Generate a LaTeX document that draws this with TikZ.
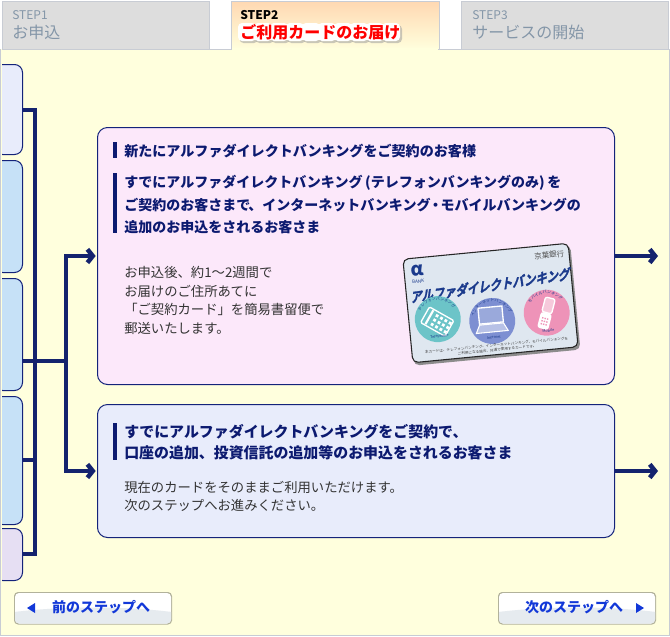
\documentclass[tikz,border=0pt]{standalone}
\usepackage{fontspec}
\setmainfont{Noto Sans CJK JP}
\newfontface\titleface[FakeBold=2]{Noto Sans CJK JP Bold}
\usetikzlibrary{arrows.meta,decorations.text}
\definecolor{navy}{HTML}{14236E}
\definecolor{edge}{HTML}{14237A}
\definecolor{headc}{HTML}{0C1A70}
\definecolor{bodyc}{HTML}{333333}
\definecolor{pageb}{HTML}{FFFFDD}
\definecolor{pinkf}{HTML}{FCE8FA}
\definecolor{bluef}{HTML}{E8ECFB}
\definecolor{skyf}{HTML}{C6E1F7}
\definecolor{lilacf}{HTML}{E6DFF3}
\definecolor{frame}{HTML}{C8CCD4}
\definecolor{tabg}{HTML}{DDDDDD}
\definecolor{tabt}{HTML}{8496A8}
\definecolor{btnc}{HTML}{1238D8}
\definecolor{cardf}{HTML}{DFE7F0}
\definecolor{cardb}{HTML}{1B3A8C}
\definecolor{tealc}{HTML}{6CC4C8}
\definecolor{lapc}{HTML}{7D8FD2}
\definecolor{pnkc}{HTML}{EE93B8}
\definecolor{swoosh}{HTML}{E6EBEF}
\tikzset{
  x=0.75pt,y=-0.75pt,
  sidebox/.style={draw=edge,line width=0.75pt,rounded corners=6pt,minimum width=21pt,anchor=north west,inner sep=0pt},
  mainbox/.style={draw=edge,line width=0.75pt,rounded corners=7.5pt,anchor=north west,inner sep=0pt,minimum width=387.75pt},
  conn/.style={draw=navy,line width=3.4pt},
  arr/.style={conn,-{Straight Barb[length=4pt,width=10pt]}},
  tabbox/.style={draw=frame,line width=1pt,anchor=north west,minimum width=155pt,minimum height=36pt,inner sep=0pt},
  steplab/.style={anchor=west,inner sep=0pt,font=\fontsize{9pt}{9pt}\selectfont},
  tabtitle/.style={anchor=west,inner sep=0pt,font=\fontsize{12pt}{12pt}\selectfont},
  heading/.style={anchor=north west,inner sep=0pt,align=left,text=headc},
  para/.style={anchor=north west,inner sep=0pt,align=left,text=bodyc},
  bar/.style={fill=headc,draw=none},
  btn/.style={draw=none,fill=none,inner sep=0pt,text=btnc,anchor=center,font=\bfseries\fontsize{10.5pt}{10.5pt}\selectfont},
  cardtxt/.style={inner sep=0pt,transform shape,text=cardb},
  arct/.style={decorate,decoration={text along path,text align=center,text color=cardb}},
}
\begin{document}
\begin{tikzpicture}
\useasboundingbox (0,0) rectangle (670,636);
% page
\fill[white] (0,0) rectangle (670,636);
\fill[pageb] (1,49) rectangle (669,635);
% tabs
\node[tabbox,fill=tabg] (tab1) at (2,1) {};
\node[tabbox,minimum width=156pt,top color=orange!30!white,bottom color=pageb,draw=frame] (tab2) at (231,1) {};
\node[tabbox,fill=tabg] (tab3) at (461,1) {};
\fill[pageb] (232,48) rectangle (438,50);
\draw[frame,line width=0.75pt] (0,49.5) -- (231,49.5) (439,49.5) -- (670,49.5);
\node[steplab,text=tabt] (t1a) at (12,15) {STEP1};
\node[tabtitle,text=tabt] (t1b) at (12,32) {お申込};
\node[steplab,font=\bfseries\fontsize{9pt}{9pt}\selectfont] (t2a) at (240,15) {STEP2};
% halo and soft shadow behind the red title
\foreach \i in {0,...,9}
  \fill[black!38,opacity=.55,rounded corners=3pt] (239.5+16*\i,25) rectangle +(18.5,18);
\foreach \i in {0,...,9}
  \fill[white,rounded corners=3pt] (238+16*\i,23) rectangle +(18,18);
\node[tabtitle,font=\bfseries\fontsize{12pt}{12pt}\selectfont,text=red] (t2b) at (240,32) {ご利用カードのお届け};
\node[steplab,text=tabt] (t3a) at (472,15) {STEP3};
\node[tabtitle,text=tabt] (t3b) at (472,32) {サービスの開始};
% left boxes
\node[sidebox,fill=bluef,minimum height=67.5pt,minimum width=21pt] (s1) at (-6,64) {};
\node[sidebox,fill=skyf,minimum height=84pt] (s2) at (-6,160) {};
\node[sidebox,fill=skyf,minimum height=84pt] (s3) at (-6,278) {};
\node[sidebox,fill=skyf,minimum height=96pt] (s4) at (-6,396) {};
\node[sidebox,fill=lilacf,minimum height=39pt] (s5) at (-6,528) {};
% frame over the left ends of the boxes
\fill[pageb] (0,49) rectangle (2,636);
\fill[white] (0,49) rectangle (1,636);
\draw[frame,line width=1pt] (0.7,49) -- (0.7,635.3) -- (669.3,635.3) -- (669.3,49);
% main boxes
\node[mainbox,fill=pinkf,minimum height=192.75pt] (pink) at (97,127) {};
\node[mainbox,fill=bluef,minimum height=99.75pt] (blue) at (97,404) {};
% connectors
\coordinate (bt) at (35,110);
\coordinate (bb) at (35,554);
\coordinate (b4) at (35,460);
\coordinate (jn) at (66,361);
\coordinate (outa) at (658,256);
\coordinate (outb) at (658,471);
\draw[conn,line join=miter] (s1.east |- bt) -- (bt) -- (bb) -- (s5.east |- bb);
\draw[conn] (s4.east |- b4) -- (b4);
\draw[conn] (s3.east |- jn) -- (jn);
\draw[arr,shorten >=1pt] (jn) |- (pink.west);
\draw[arr,shorten >=1pt] (jn) |- (blue.west);
\draw[arr] (pink.east |- outa) -- (outa);
\draw[arr] (blue.east |- outb) -- (outb);
% pink box contents
\fill[bar] (113,142) rectangle (117,158);
\fill[bar] (113,173) rectangle (117,233);
\node[heading,font=\bfseries\fontsize{10.55pt}{10.5pt}\selectfont] (h1) at (124,144) {新たにアルファダイレクトバンキングをご契約のお客様};
\node[heading,font=\bfseries\fontsize{10.5pt}{16.9pt}\selectfont] (h2) at (124,175) {すでにアルファダイレクトバンキング\hspace{2pt}(テレフォンバンキングのみ)\hspace{2pt}を\\ご契約のお客さまで\kern-1.5pt、インターネットバンキング\kern-1.5pt・\kern-1.5pt モバイルバンキングの\\追加のお申込をされるお客さま};
\node[para,font=\fontsize{10pt}{14pt}\selectfont] (p1) at (124,266) {お申込後、約1～2週間で\\お届けのご住所あてに\\「ご契約カード」を簡易書留便で\\郵送いたします。};
% card
\begin{scope}[shift={(490.5,303)},rotate=5.5]
  \fill[black!45,rounded corners=4pt] (-82,-50) rectangle (85,55);
  \fill[cardf,draw=black!85,line width=.8pt,rounded corners=4pt] (-83,-52) rectangle (83,52);
  \node[cardtxt,text=black!70,font=\fontsize{5.6pt}{5.6pt}\selectfont] (bank) at (63,-42) {京葉銀行};
  \node[cardtxt,font=\bfseries\fontsize{14pt}{14pt}\selectfont] (alpha) at (-70,-39) {α};
  \node[cardtxt,font=\fontsize{3.4pt}{3.4pt}\selectfont] (bk) at (-70,-28.5) {BANK};
  \node[cardtxt,rotate=3,xslant=0.3,yscale=1.2,font=\titleface\fontsize{8.6pt}{8.6pt}\selectfont] (title) at (2,-17.5) {アルファダイレクトバンキング};
  % telephone
  \fill[tealc] (-54,11) circle (23);
  \begin{scope}[shift={(-54,14)},rotate=-35]
    \draw[white,line width=1pt,rounded corners=1pt] (-15,-9) rectangle (13,9);
    \draw[white,line width=1.6pt] (-10,-8) -- (-10,8);
    \foreach \i in {-4,1,6,11}\foreach \j in {-5,0,5}
      \fill[white] (\i-1.4,\j-1.4) rectangle (\i+1.4,\j+1.4);
  \end{scope}
  \path[arct,decoration={text={|\fontsize{3pt}{3pt}\selectfont|テレフォンバンキング}}] (-73,11) arc[start angle=180,end angle=360,radius=19];
  \node[cardtxt,font=\fontsize{2.8pt}{2.8pt}\selectfont] (tel) at (-54,28.5) {Telephone};
  % laptop
  \fill[lapc] (0,18) circle (23);
  \draw[white,fill=lapc!70!cardf,line width=1pt] (-13,4) rectangle (11,20);
  \draw[white,fill=white,fill opacity=.45,line width=.8pt] (-13,21) -- (11,21) -- (15,29) -- (-17,29) -- cycle;
  \path[arct,decoration={text={|\fontsize{3pt}{3pt}\selectfont|インターネットバンキング}}] (-19,18) arc[start angle=180,end angle=360,radius=19];
  \node[cardtxt,font=\fontsize{2.8pt}{2.8pt}\selectfont] (net) at (0,34.5) {Internet};
  % mobile
  \fill[pnkc] (55,15) circle (23);
  \begin{scope}[shift={(55,15)},rotate=-20]
    \draw[white,fill=pnkc!50!white,line width=1pt,rounded corners=1.5pt] (-5,-15) rectangle (5,0);
    \draw[white,fill=white,line width=1pt,rounded corners=1.5pt] (-5,1) rectangle (5,16);
    \foreach \i in {-2.5,0,2.5}\foreach \j in {6,9,12}
      \fill[pnkc] (\i-.7,\j-.7) rectangle (\i+.7,\j+.7);
  \end{scope}
  \path[arct,decoration={text={|\fontsize{3pt}{3pt}\selectfont|モバイルバンキング}}] (36,15) arc[start angle=180,end angle=360,radius=19];
  \node[cardtxt,font=\fontsize{2.8pt}{2.8pt}\selectfont] (mob) at (55,33) {Mobile};
  \node[cardtxt,text=black!75,align=center,font=\fontsize{2.7pt}{3.6pt}\selectfont] (note) at (2,45) {本カードは、テレフォンバンキング、インターネットバンキング、モバイルバンキングを\\ご利用になる場合、共通で使用するカードです。};
\end{scope}
% blue box contents
\fill[bar] (113,423) rectangle (117,460);
\node[heading,font=\bfseries\fontsize{11.2pt}{15.75pt}\selectfont] (h3) at (124,424) {すでにアルファダイレクトバンキングをご契約で、\\口座の追加、投資信託の追加等のお申込をされるお客さま};
\node[para,font=\fontsize{10pt}{13.5pt}\selectfont] (p2) at (124,481) {現在のカードをそのままご利用いただけます。\\次のステップへお進みください。};
% buttons
\foreach \xa in {14,498}{
  \begin{scope}
    \fill[black!30!pageb,rounded corners=3pt] (\xa,592) rectangle (\xa+158,624.5);
    \fill[white,rounded corners=3pt] (\xa+1,593) rectangle (\xa+157,623.5);
    \clip[rounded corners=3pt] (\xa+1,593) rectangle (\xa+157,623.5);
    \fill[swoosh] (\xa,612) .. controls (\xa+50,606) and (\xa+110,606) .. (\xa+158,612) -- (\xa+158,624) -- (\xa,624) -- cycle;
  \end{scope}
}
\node[btn] (prev) at (101,607.5) {前のステップへ};
\node[btn] (next) at (574,607.5) {次のステップへ};
\fill[btnc] (27,608) -- (35,603) -- (35,613) -- cycle;
\fill[btnc] (644,608) -- (636,603) -- (636,613) -- cycle;
\end{tikzpicture}
\end{document}
